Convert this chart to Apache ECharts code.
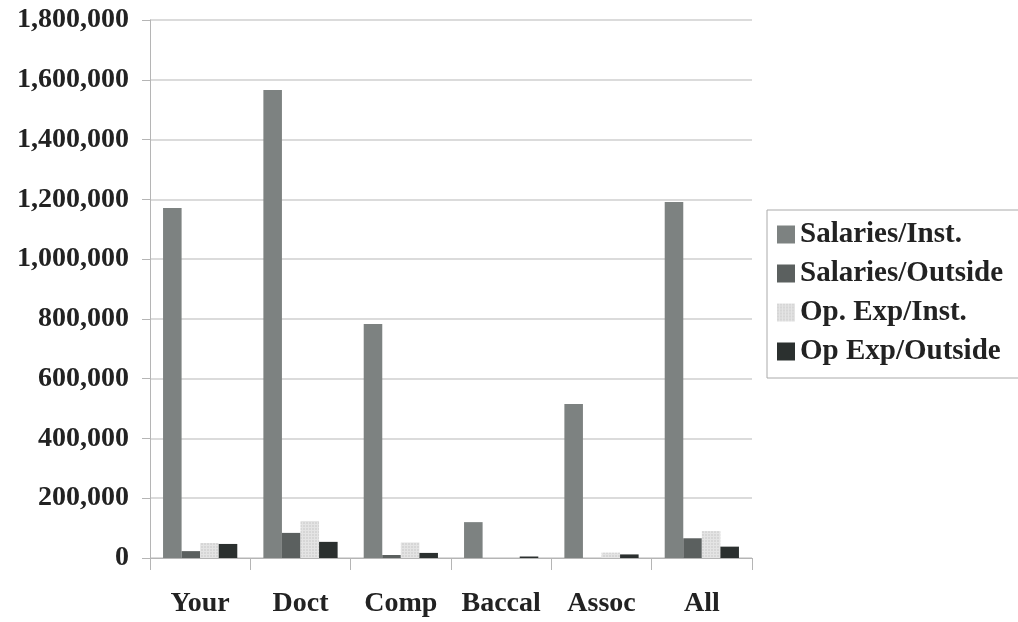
<!DOCTYPE html>
<html>
<head>
<meta charset="utf-8">
<script src="https://cdn.jsdelivr.net/npm/echarts@6/dist/echarts.min.js"></script>
<style>
  html, body { margin: 0; padding: 0; background: #fff; }
  #chart { width: 1018px; height: 622px; }
</style>
</head>
<body>
<div id="chart"></div>
<script>
// categories and series
const categories = ['Your', 'Doct', 'Comp', 'Baccal', 'Assoc', 'All']
const salariesInst = [1171000, 1566000, 783000, 120000, 515000, 1191000]
const salariesOutside = [23000, 84000, 10000, 0, 0, 66000]
const opExpInst = [50000, 124000, 52000, 0, 18000, 90000]
const opExpOutside = [47000, 54000, 17000, 5000, 12000, 38000]

const seriesNames = ['Salaries/Inst.', 'Salaries/Outside', 'Op. Exp/Inst.', 'Op Exp/Outside']
const seriesColors = ['#7d8281', '#5b605f', '#e4e4e4', '#2b302f']

const font = '"Liberation Serif", "Times New Roman", serif'

const chart = echarts.init(document.getElementById('chart'))

// 系列配置
const makeSeries = (name, data, color, decal) => ({
  name: name,
  type: 'bar',
  data: data,
  barGap: '0%',
  barCategoryGap: '26%',
  itemStyle: {
    color: color,
    decal: decal || null,
  },
  emphasis: { disabled: true },
})

const dots = {
  symbol: 'rect',
  symbolSize: 0.6,
  color: 'rgba(150,150,150,0.6)',
  dashArrayX: [2, 1],
  dashArrayY: [2, 1],
  rotation: 0,
}

const option = {
  animation: false,
  backgroundColor: '#fff',
  grid: {
    left: 150,
    right: 266,
    top: 20,
    bottom: 64,
  },
  legend: {
    orient: 'vertical',
    left: 767,
    top: 210,
    itemWidth: 18,
    itemHeight: 18,
    itemGap: 10,
    padding: [10, 30, 12, 10],
    borderColor: '#aaa',
    borderWidth: 1,
    icon: 'rect',
    textStyle: {
      fontFamily: font,
      fontWeight: 'bold',
      fontSize: 29,
      color: '#222',
    },
    data: seriesNames,
  },
  xAxis: {
    type: 'category',
    data: categories,
    axisLine: { lineStyle: { color: '#b5b5b5' } },
    axisTick: { show: true, interval: 0, length: 12, lineStyle: { color: '#b5b5b5' } },
    axisLabel: {
      interval: 0,
      hideOverlap: false,
      fontFamily: font,
      fontWeight: 'bold',
      fontSize: 28,
      color: '#222',
      margin: 32,
    },
  },
  yAxis: {
    type: 'value',
    min: 0,
    max: 1800000,
    interval: 200000,
    axisLine: { show: true, lineStyle: { color: '#b5b5b5' } },
    axisTick: { show: true, length: 8, lineStyle: { color: '#b5b5b5' } },
    splitLine: { show: true, lineStyle: { color: '#cfcfcf', width: 1.5 } },
    axisLabel: {
      fontFamily: font,
      fontWeight: 'bold',
      fontSize: 28,
      color: '#222',
      margin: 21,
      formatter: (v) => v.toString().replace(/\B(?=(\d{3})+(?!\d))/g, ','),
    },
  },
  series: [
    makeSeries(seriesNames[0], salariesInst, seriesColors[0]),
    makeSeries(seriesNames[1], salariesOutside, seriesColors[1]),
    makeSeries(seriesNames[2], opExpInst, seriesColors[2], dots),
    makeSeries(seriesNames[3], opExpOutside, seriesColors[3]),
  ],
}

chart.setOption(option)
</script>
</body>
</html>
